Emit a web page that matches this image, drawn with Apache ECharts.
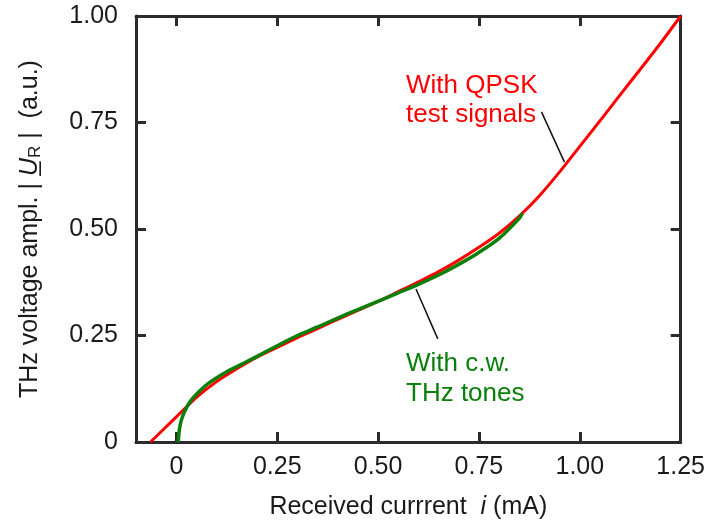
<!DOCTYPE html>
<html>
<head>
<meta charset="utf-8">
<script src="https://cdn.jsdelivr.net/npm/echarts@6/dist/echarts.min.js"></script>
<style>html,body{margin:0;padding:0;background:#fff}#c{width:708px;height:525px}</style>
</head>
<body>
<div id="c"></div>
<script>
// QPSK (red) curve: received current (mA) vs. THz voltage amplitude (a.u.)
const qpskCurrent = [-0.064, 0, 0.05, 0.1, 0.15, 0.2, 0.25, 0.3, 0.35, 0.4, 0.45, 0.5, 0.55, 0.6, 0.65, 0.7, 0.75, 0.8, 0.85, 0.9, 0.95, 1.0, 1.05, 1.1, 1.15, 1.2, 1.25];
const qpskAmpl    = [0, 0.059, 0.105, 0.142, 0.172, 0.199, 0.222, 0.245, 0.266, 0.288, 0.309, 0.330, 0.353, 0.376, 0.400, 0.427, 0.457, 0.490, 0.530, 0.578, 0.634, 0.694, 0.754, 0.815, 0.875, 0.936, 1.0];
// c.w. THz tones (green) curve
const cwCurrent = [0.005, 0.006, 0.008, 0.012, 0.018, 0.025, 0.035, 0.05, 0.065, 0.08, 0.1, 0.125, 0.15, 0.175, 0.2, 0.25, 0.3, 0.35, 0.4, 0.45, 0.5, 0.55, 0.6, 0.65, 0.7, 0.75, 0.8, 0.85, 0.858];
const cwAmpl    = [0, 0.016, 0.032, 0.05, 0.066, 0.08, 0.096, 0.112, 0.126, 0.138, 0.151, 0.165, 0.177, 0.189, 0.201, 0.226, 0.250, 0.270, 0.291, 0.311, 0.330, 0.350, 0.370, 0.392, 0.417, 0.445, 0.478, 0.525, 0.537];
// tick values
const xTicks = [0, 0.25, 0.5, 0.75, 1.0, 1.25];
const yTicks = [0, 0.25, 0.5, 0.75, 1.0];
// annotation pointers (data units)
const qpskPointer = [[0.905, 0.775], [0.962, 0.657]];
const cwPointer   = [[0.594, 0.359], [0.648, 0.242]];

const fmt = v => (Math.abs(v) < 1e-9 ? '0' : v.toFixed(2));
const FONT = 'Liberation Sans, Arial, sans-serif';
const axisCol = '#2b2b2b';
const txtCol = '#1a1a1a';

const chart = echarts.init(document.getElementById('c'), null, {renderer: 'canvas'});
const baseAxisLine = {show: true, onZero: false, lineStyle: {color: axisCol, width: 3}};
const baseTick = {show: true, inside: true, length: 10, lineStyle: {color: axisCol, width: 3}};

chart.setOption({
  animation: false,
  backgroundColor: '#fff',
  grid: {left: 136, right: 25, top: 16, bottom: 83, containLabel: false},
  xAxis: [
    {
      type: 'value', min: -0.1, max: 1.25, position: 'bottom',
      axisLine: baseAxisLine,
      axisTick: Object.assign({}, baseTick, {customValues: xTicks}),
      splitLine: {show: false},
      axisLabel: {customValues: xTicks, formatter: fmt, color: txtCol, fontSize: 25, fontFamily: FONT, margin: 13},
      name: 'Received currrent  {i|i} (mA)',
      nameLocation: 'middle', nameGap: 53,
      nameTextStyle: {color: txtCol, fontSize: 25, fontFamily: FONT,
        rich: {i: {fontStyle: 'italic', fontSize: 25, fontFamily: FONT, color: txtCol}}}
    },
    {
      type: 'value', min: -0.1, max: 1.25, position: 'top',
      axisLine: baseAxisLine,
      axisTick: Object.assign({}, baseTick, {customValues: xTicks}),
      axisLabel: {show: false}, splitLine: {show: false}
    }
  ],
  yAxis: [
    {
      type: 'value', min: 0, max: 1, interval: 0.25, position: 'left',
      axisLine: baseAxisLine,
      axisTick: Object.assign({}, baseTick, {customValues: yTicks}),
      splitLine: {show: false},
      axisLabel: {customValues: yTicks, formatter: fmt, color: txtCol, fontSize: 25, fontFamily: FONT, margin: 18},
      name: 'THz voltage ampl. | {u|U\u0332}{sub|R} |  (a.u.)',
      nameLocation: 'middle', nameGap: 92, nameRotate: 90,
      nameTextStyle: {color: txtCol, fontSize: 25, fontFamily: FONT,
        rich: {
          u: {fontStyle: 'italic', fontSize: 25, fontFamily: FONT, color: txtCol},
          sub: {fontSize: 17, fontFamily: FONT, color: txtCol, verticalAlign: 'bottom', padding: [10, 0, 0, 0]}
        }}
    },
    {
      type: 'value', min: 0, max: 1, interval: 0.25, position: 'right',
      axisLine: baseAxisLine,
      axisTick: Object.assign({}, baseTick, {customValues: yTicks}),
      axisLabel: {show: false}, splitLine: {show: false}
    }
  ],
  series: [
    {
      type: 'line', name: 'QPSK', xAxisIndex: 0, yAxisIndex: 0,
      data: qpskCurrent.map((x, k) => [x, qpskAmpl[k]]),
      showSymbol: false, smooth: 0.3, clip: true,
      lineStyle: {color: '#ff0000', width: 3},
      markLine: {
        silent: true, symbol: ['none', 'none'],
        lineStyle: {color: '#111', width: 1.5, type: 'solid'},
        label: {show: false},
        data: [[{coord: qpskPointer[0]}, {coord: qpskPointer[1]}]]
      }
    },
    {
      type: 'line', name: 'cw', xAxisIndex: 0, yAxisIndex: 0,
      data: cwCurrent.map((x, k) => [x, cwAmpl[k]]),
      showSymbol: false, smooth: 0.3, clip: true,
      lineStyle: {color: '#0a800a', width: 3.5},
      markLine: {
        silent: true, symbol: ['none', 'none'],
        lineStyle: {color: '#111', width: 1.5, type: 'solid'},
        label: {show: false},
        data: [[{coord: cwPointer[0]}, {coord: cwPointer[1]}]]
      }
    }
  ],
  graphic: [
    {type: 'text', left: 406, top: 71, style: {text: 'With QPSK\ntest signals', fill: '#ff0000', font: '26px ' + FONT, lineHeight: 29}},
    {type: 'text', left: 406, top: 349, style: {text: 'With c.w.\nTHz tones', fill: '#0a800a', font: '26px ' + FONT, lineHeight: 30}}
  ]
});
</script>
</body>
</html>
